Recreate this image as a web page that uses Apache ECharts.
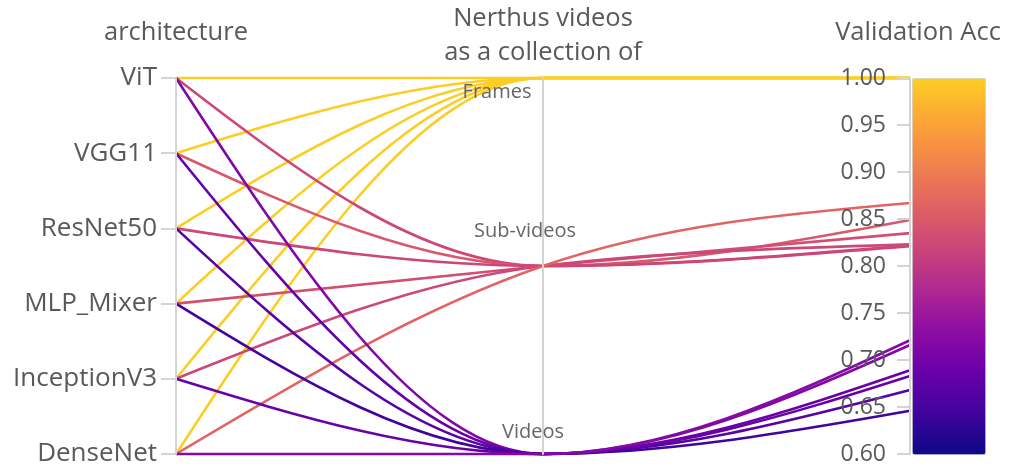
<!DOCTYPE html>
<html>
<head>
<meta charset="utf-8">
<script src="https://cdn.jsdelivr.net/npm/echarts@6/dist/echarts.min.js"></script>
<style>
  html, body { margin: 0; padding: 0; background: #ffffff; }
  #chart { width: 1015px; height: 468px; }
</style>
</head>
<body>
<div id="chart"></div>
<script>
// Categories of the two categorical axes
const architectures = ['ViT', 'VGG11', 'ResNet50', 'MLP_Mixer', 'InceptionV3', 'DenseNet'];
const collections = ['Frames', 'Sub-videos', 'Videos'];

// One entry per training run
const runArchitecture = [
  'ViT', 'VGG11', 'ResNet50', 'MLP_Mixer', 'InceptionV3', 'DenseNet',
  'ViT', 'VGG11', 'ResNet50', 'MLP_Mixer', 'InceptionV3', 'DenseNet',
  'ViT', 'VGG11', 'ResNet50', 'MLP_Mixer', 'InceptionV3', 'DenseNet'
];
const runCollection = [
  'Frames', 'Frames', 'Frames', 'Frames', 'Frames', 'Frames',
  'Sub-videos', 'Sub-videos', 'Sub-videos', 'Sub-videos', 'Sub-videos', 'Sub-videos',
  'Videos', 'Videos', 'Videos', 'Videos', 'Videos', 'Videos'
];
const runAccuracy = [
  1.000, 1.000, 1.000, 1.000, 1.000, 1.000,
  0.822, 0.849, 0.821, 0.835, 0.823, 0.867,
  0.716, 0.683, 0.668, 0.646, 0.689, 0.721
];

// Accuracy axis range and tick step
const accMin = 0.60;
const accMax = 1.00;
const accStep = 0.05;

// Colour scale for accuracy (plasma-like, low to high)
const accColors = ['#0d0887', '#41049d', '#6a00a8', '#8f0da4', '#b12a90',
                   '#cc4778', '#e16462', '#f2844b', '#fca636', '#fcce25'];

const FONT = '"Open Sans", "Noto Sans", sans-serif';
const TEXT = '#595959';
const AXIS_GREY = '#d4d4d4';

const chart = echarts.init(document.getElementById('chart'), null, { renderer: 'canvas' });

// Monotone cubic path (monotone in x) through a list of pixel points
function monotonePath(pts) {
  const n = pts.length;
  const h = [], s = [], t = new Array(n);
  for (let i = 0; i < n - 1; i++) {
    h[i] = pts[i + 1][0] - pts[i][0];
    s[i] = (pts[i + 1][1] - pts[i][1]) / h[i];
  }
  const sgn = v => (v < 0 ? -1 : 1);
  for (let i = 1; i < n - 1; i++) {
    const p = (s[i - 1] * h[i] + s[i] * h[i - 1]) / (h[i - 1] + h[i]);
    t[i] = (sgn(s[i - 1]) + sgn(s[i])) *
      Math.min(Math.abs(s[i - 1]), Math.abs(s[i]), 0.5 * Math.abs(p)) || 0;
  }
  t[0] = (3 * s[0] - t[1]) / 2;
  t[n - 1] = (3 * s[n - 2] - t[n - 2]) / 2;
  let d = 'M' + pts[0][0] + ',' + pts[0][1];
  for (let i = 0; i < n - 1; i++) {
    const dx = h[i] / 3;
    const [x0, y0] = pts[i], [x1, y1] = pts[i + 1];
    d += ' C' + (x0 + dx) + ',' + (y0 + dx * t[i]) + ' ' +
         (x1 - dx) + ',' + (y1 - dx * t[i + 1]) + ' ' + x1 + ',' + y1;
  }
  return d;
}

// Each run is drawn as a smooth curve through the parallel axes' own scales
function renderRun(params, api) {
  const par = chart.getModel().getComponent('parallel').coordinateSystem;
  const dims = par.dimensions;
  const i = params.dataIndex;
  const pts = [
    par.dataToPoint(runArchitecture[i], dims[0]),
    par.dataToPoint(runCollection[i], dims[1]),
    par.dataToPoint(runAccuracy[i], dims[2])
  ];
  return {
    type: 'path',
    shape: { pathData: monotonePath(pts) },
    style: { fill: 'none', stroke: api.visual('color'), lineWidth: 2.6 },
    z2: 10
  };
}

const axisCommon = {
  nameTextStyle: { fontFamily: FONT, fontSize: 25.5, color: TEXT },
  axisLine: { lineStyle: { color: AXIS_GREY, width: 2 } },
  axisTick: { show: true, length: -15, lineStyle: { color: AXIS_GREY, width: 2 } },
  axisLabel: { fontFamily: FONT, fontSize: 23, color: TEXT, align: 'right' },
  splitLine: { show: false }
};

// Category labels on the middle axis sit around the axis line
const midLabel = { fontFamily: FONT, fontSize: 20, color: '#666666' };
const collectionLabelRich = {
  top: Object.assign({ padding: [28, 92, 0, 0] }, midLabel),
  mid: Object.assign({ padding: [0, 36, 70, 0] }, midLabel),
  low: Object.assign({ padding: [0, 20, 44, 0] }, midLabel)
};
const collectionLabelStyle = ['top', 'mid', 'low'];

const option = {
  animation: false,
  backgroundColor: '#ffffff',
  parallel: {
    left: 176, right: 105, top: 78, bottom: 14,
    parallelAxisDefault: { realtime: false }
  },
  parallelAxis: [
    Object.assign({}, axisCommon, {
      dim: 0, name: 'architecture', type: 'category', data: architectures,
      inverse: true, boundaryGap: false, nameLocation: 'start', nameGap: 32,
      axisLabel: Object.assign({}, axisCommon.axisLabel, { fontSize: 26, margin: -19 })
    }),
    Object.assign({}, axisCommon, {
      dim: 1, name: 'Nerthus videos\nas a collection of', type: 'category', data: collections,
      inverse: true, boundaryGap: false, nameLocation: 'start', nameGap: 8,
      nameTextStyle: Object.assign({}, axisCommon.nameTextStyle, { lineHeight: 34 }),
      axisTick: { show: false },
      axisLabel: {
        margin: 0, align: 'center', verticalAlign: 'middle',
        formatter: (v, idx) => '{' + collectionLabelStyle[idx] + '|' + v + '}',
        rich: collectionLabelRich
      }
    }),
    Object.assign({}, axisCommon, {
      dim: 2, name: 'Validation Acc', type: 'value', min: accMin, max: accMax,
      interval: accStep, nameGap: 32,
      nameTextStyle: Object.assign({}, axisCommon.nameTextStyle, { padding: [0, 0, 0, 16] }),
      axisTick: { show: true, length: -13, lineStyle: { color: AXIS_GREY, width: 2 } },
      axisLabel: Object.assign({}, axisCommon.axisLabel, {
        margin: -24, formatter: v => v.toFixed(2)
      })
    })
  ],
  visualMap: {
    type: 'continuous', min: accMin, max: accMax, dimension: 2, seriesIndex: [0, 1],
    calculable: false, hoverLink: false, orient: 'vertical',
    left: 912, top: 78, itemWidth: 73, itemHeight: 376, padding: 0,
    borderColor: '#d9d9d9', borderWidth: 1,
    inRange: { color: accColors }
  },
  series: [{
    // Native parallel series: registers the runs with the axes (scales), drawn transparent
    type: 'parallel',
    silent: true,
    lineStyle: { width: 1, opacity: 0 },
    data: runAccuracy.map((v, i) => [runArchitecture[i], runCollection[i], v])
  }, {
    // Visible smooth run curves
    type: 'custom',
    coordinateSystem: 'none',
    silent: true,
    data: runAccuracy.map((v, i) => [i, i, v]),
    renderItem: renderRun
  }]
};

chart.setOption(option);
</script>
</body>
</html>
